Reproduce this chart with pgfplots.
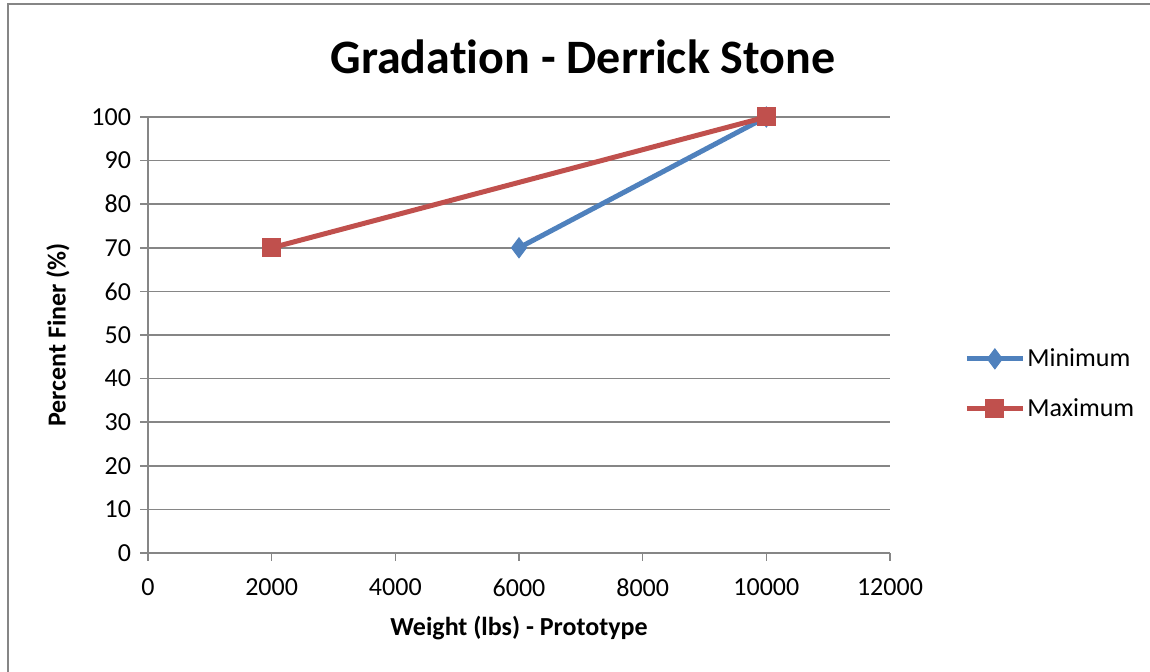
\documentclass[border=0pt]{standalone}
\usepackage{fontspec}
\setmainfont{Carlito}[RawFeature={-liga;-calt;-clig}]
\usepackage{pgfplots}
\pgfplotsset{compat=1.18}
\definecolor{exblue}{HTML}{4F81BD}
\definecolor{exred}{HTML}{C0504D}
\definecolor{exgrid}{HTML}{868686}
\begin{document}
\begin{tikzpicture}
\path[use as bounding box] (0,0) rectangle (575pt,336pt);
\draw[exgrid, line width=1pt] (3.75pt,0) -- (3.75pt,333.75pt) -- (575pt,333.75pt);
\begin{axis}[
  at={(74pt,59.5pt)}, anchor=south west,
  scale only axis, width=371pt, height=218pt,
  xmin=0, xmax=12000, ymin=0, ymax=100,
  xtick={0,2000,...,12000}, ytick={0,10,...,100},
  scaled ticks=false,
  axis x line*=bottom, axis y line*=left,
  axis line style={exgrid, line width=0.75pt},
  major tick style={exgrid, line width=0.75pt},
  tick align=outside, major tick length=4pt,
  ymajorgrids, grid style={exgrid, line width=0.75pt},
  /pgf/number format/assume math mode=true,
  /pgf/number format/1000 sep={},
  /pgf/number format/fixed,
  ticklabel style={font=\fontsize{13}{15}\selectfont, text=black},
  yticklabel style={xshift=-1pt},
  xticklabel style={yshift=-5.5pt},
  legend style={at={(1.0997,0.388)}, anchor=west, draw=none, fill=none,
    font=\fontsize{13}{15}\selectfont, row sep=12.5pt, inner sep=0pt,
    nodes={inner sep=1pt}},
  legend cell align=left,
  legend image code/.code={\draw[#1, mark repeat=2, mark phase=2] plot coordinates {(0pt,0pt) (14pt,0pt) (28pt,0pt)};},
  clip=false,
]
\addplot[exblue, line width=2.5pt, mark=diamond*, mark size=5pt, mark options={fill=exblue, draw=exblue, line width=0.5pt}]
  coordinates {(6000,70) (10000,100)};
\addlegendentry{Minimum}
\addplot[exred, line width=2.5pt, mark=square*, mark size=4.5pt, mark options={fill=exred, draw=exred, line width=0.5pt}]
  coordinates {(2000,70) (10000,100)};
\addlegendentry{Maximum}
\node[font=\fontsize{13}{15}\selectfont\bfseries, rotate=90, anchor=center] at (axis description cs:-0.1213,0.5) {Percent Finer (\%)};
\node[font=\fontsize{13}{15}\selectfont\bfseries, anchor=center] at (axis description cs:0.5,-0.172) {Weight (lbs) - Prototype};
\end{axis}
\node[font=\fontsize{24}{28}\selectfont\bfseries, anchor=center] at (291.5pt,307.5pt) {Grada\kern0pt tion - Derrick Stone};
\end{tikzpicture}
\end{document}
